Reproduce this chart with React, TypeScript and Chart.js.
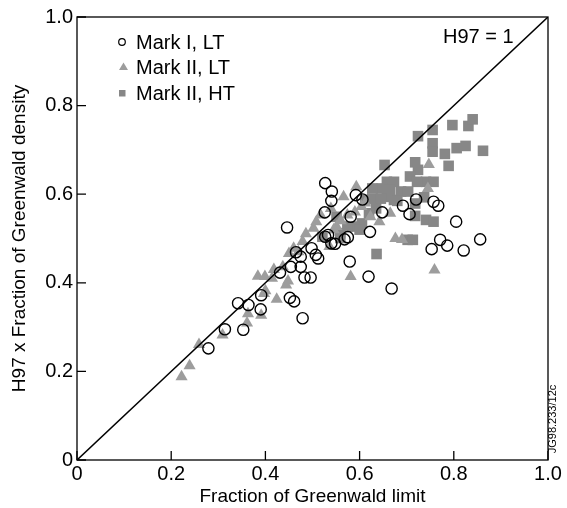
import React, { useEffect, useRef } from "react";
import { Chart, registerables } from "chart.js";

Chart.register(...registerables);

const FONT = "'Liberation Sans', Arial, Helvetica, sans-serif";

const xTickValues = [0, 0.2, 0.4, 0.6, 0.8, 1.0];
const yTickValues = [0, 0.2, 0.4, 0.6, 0.8, 1.0];
const xTitle = "Fraction of Greenwald limit";
const yTitle = "H97 x Fraction of Greenwald density";
const seriesNames = ["Mark I, LT", "Mark II, LT", "Mark II, HT"];
const lineLabel = "H97 = 1";
const figureId = "JG98.233/12c";

const markILT: [number, number][] = [
  [0.279, 0.252], [0.314, 0.295], [0.353, 0.294], [0.342, 0.354], [0.364, 0.350],
  [0.390, 0.340], [0.391, 0.372], [0.452, 0.366], [0.461, 0.358], [0.479, 0.320],
  [0.446, 0.525], [0.431, 0.423], [0.454, 0.436], [0.465, 0.469], [0.475, 0.459],
  [0.475, 0.436], [0.483, 0.412], [0.496, 0.412], [0.507, 0.463], [0.512, 0.455],
  [0.498, 0.478], [0.527, 0.625], [0.541, 0.606], [0.540, 0.585], [0.526, 0.559],
  [0.527, 0.504], [0.540, 0.489], [0.581, 0.549], [0.579, 0.448], [0.575, 0.503],
  [0.592, 0.598], [0.606, 0.588], [0.622, 0.515], [0.619, 0.414], [0.648, 0.559],
  [0.668, 0.387], [0.692, 0.574], [0.706, 0.555], [0.720, 0.588], [0.757, 0.583],
  [0.767, 0.574], [0.753, 0.476], [0.771, 0.497], [0.786, 0.484], [0.805, 0.538],
  [0.821, 0.473], [0.856, 0.498], [0.568, 0.498], [0.533, 0.508], [0.548, 0.488],
];

const markIILT: [number, number][] = [
  [0.222, 0.188], [0.239, 0.213], [0.259, 0.261], [0.309, 0.282], [0.361, 0.309],
  [0.363, 0.330], [0.391, 0.327], [0.384, 0.415], [0.399, 0.414], [0.400, 0.382],
  [0.397, 0.376], [0.414, 0.410], [0.418, 0.430], [0.424, 0.363], [0.444, 0.395],
  [0.448, 0.404], [0.437, 0.436], [0.450, 0.466], [0.460, 0.478], [0.479, 0.493],
  [0.486, 0.511], [0.502, 0.523], [0.508, 0.538], [0.517, 0.553], [0.539, 0.568],
  [0.536, 0.482], [0.566, 0.594], [0.593, 0.617], [0.574, 0.553], [0.551, 0.527],
  [0.581, 0.414], [0.604, 0.572], [0.623, 0.549], [0.642, 0.538], [0.665, 0.557],
  [0.676, 0.500], [0.690, 0.498], [0.747, 0.667], [0.745, 0.613], [0.759, 0.429],
  [0.612, 0.580], [0.590, 0.560], [0.560, 0.540], [0.470, 0.470], [0.545, 0.520],
];

const markIIHT: [number, number][] = [
  [0.636, 0.465], [0.653, 0.666], [0.724, 0.731], [0.755, 0.745], [0.755, 0.715],
  [0.755, 0.696], [0.797, 0.756], [0.831, 0.754], [0.840, 0.769], [0.781, 0.691],
  [0.806, 0.704], [0.825, 0.709], [0.862, 0.698], [0.789, 0.664], [0.718, 0.672],
  [0.724, 0.655], [0.707, 0.640], [0.741, 0.628], [0.757, 0.628], [0.722, 0.628],
  [0.737, 0.593], [0.718, 0.579], [0.702, 0.497], [0.718, 0.551], [0.741, 0.542],
  [0.757, 0.538], [0.658, 0.628], [0.673, 0.628], [0.647, 0.613], [0.658, 0.594],
  [0.673, 0.587], [0.688, 0.606], [0.703, 0.606], [0.627, 0.613], [0.612, 0.587],
  [0.635, 0.568], [0.620, 0.557], [0.605, 0.534], [0.589, 0.527], [0.574, 0.527],
  [0.559, 0.512], [0.559, 0.501], [0.551, 0.549], [0.521, 0.504], [0.627, 0.590],
  [0.665, 0.610], [0.645, 0.590], [0.680, 0.585], [0.600, 0.520], [0.713, 0.497],
];

const identityLine: [number, number][] = [[0, 0], [1, 1]];

const toPts = (a: [number, number][]) => a.map(([x, y]) => ({ x, y }));

const TRI_COLOR = "#9d9d9d";
const SQ_COLOR = "#878787";

const decorPlugin = {
  id: "decor",
  afterDraw(chart: any) {
    const { ctx, chartArea, scales } = chart;
    const { left, right, top, bottom } = chartArea;
    const xs = scales.x;
    const ys = scales.y;
    ctx.save();
    ctx.strokeStyle = "#000";
    ctx.lineWidth = 1.3;
    ctx.strokeRect(left, top, right - left, bottom - top);
    const tl = 9;
    ctx.beginPath();
    xTickValues.forEach((v) => {
      const px = xs.getPixelForValue(v);
      ctx.moveTo(px, bottom);
      ctx.lineTo(px, bottom - tl);
    });
    yTickValues.forEach((v) => {
      const py = ys.getPixelForValue(v);
      ctx.moveTo(left, py);
      ctx.lineTo(left + tl, py);
    });
    ctx.stroke();

    ctx.font = `20px ${FONT}`;
    ctx.textBaseline = "middle";
    ctx.textAlign = "left";
    ctx.fillStyle = "#000";
    const mx = left + 45;
    const tx = left + 59;
    const rows = [top + 25, top + 50, top + 76];
    ctx.beginPath();
    ctx.lineWidth = 1.2;
    ctx.strokeStyle = "#000";
    ctx.arc(mx, rows[0], 3.3, 0, Math.PI * 2);
    ctx.stroke();
    ctx.beginPath();
    ctx.fillStyle = TRI_COLOR;
    ctx.moveTo(mx + 1.5, rows[1] - 4.5);
    ctx.lineTo(mx + 6, rows[1] + 3);
    ctx.lineTo(mx - 3, rows[1] + 3);
    ctx.closePath();
    ctx.fill();
    ctx.fillStyle = SQ_COLOR;
    ctx.fillRect(mx - 3, rows[2] - 3, 6.5, 6.5);
    ctx.fillStyle = "#000";
    seriesNames.forEach((n, i) => ctx.fillText(n, tx, rows[i] + 1));

    ctx.fillText(lineLabel, xs.getPixelForValue(0.777), ys.getPixelForValue(0.953));

    ctx.save();
    ctx.font = `11px ${FONT}`;
    ctx.translate(right + 5, bottom - 41);
    ctx.rotate(-Math.PI / 2);
    ctx.textAlign = "center";
    ctx.textBaseline = "middle";
    ctx.fillText(figureId, 0, 0);
    ctx.restore();

    ctx.restore();
  },
};

export default function App() {
  const ref = useRef<HTMLCanvasElement | null>(null);
  useEffect(() => {
    document.body.style.margin = "0";
    document.body.style.background = "#fff";
    const canvas = ref.current!;
    const chart = new Chart(canvas, {
      type: "scatter",
      data: {
        datasets: [
          {
            type: "line",
            label: lineLabel,
            data: toPts(identityLine),
            borderColor: "#000",
            borderWidth: 1.5,
            pointRadius: 0,
            showLine: true,
            fill: false,
          } as any,
          {
            label: seriesNames[0],
            data: toPts(markILT),
            pointStyle: "circle",
            pointRadius: 5.6,
            borderColor: "#000",
            borderWidth: 1.4,
            backgroundColor: "rgba(255,255,255,0)",
          },
          {
            label: seriesNames[1],
            data: toPts(markIILT),
            pointStyle: "triangle",
            pointRadius: 7,
            borderWidth: 0,
            borderColor: TRI_COLOR,
            backgroundColor: TRI_COLOR,
          },
          {
            label: seriesNames[2],
            data: toPts(markIIHT),
            pointStyle: "rect",
            pointRadius: 7.5,
            borderWidth: 0,
            borderColor: SQ_COLOR,
            backgroundColor: SQ_COLOR,
          },
        ],
      },
      options: {
        responsive: false,
        animation: false,
        layout: { padding: { top: 17, right: 19, left: 0, bottom: 0 } },
        plugins: {
          legend: { display: false },
          tooltip: { enabled: false },
        },
        scales: {
          x: {
            type: "linear",
            min: 0,
            max: 1,
            afterFit: (s: any) => {
              s.height = 48;
            },
            afterBuildTicks: (s: any) => {
              s.ticks = xTickValues.map((v) => ({ value: v }));
            },
            grid: { display: false, drawTicks: false },
            border: { display: false },
            ticks: {
              padding: 2,
              color: "#000",
              font: { family: FONT, size: 20 },
              callback: (v: any) => (Number(v) === 0 ? "0" : Number(v).toFixed(1)),
              maxRotation: 0,
            },
            title: {
              display: true,
              text: xTitle,
              color: "#000",
              font: { family: FONT, size: 19 },
              padding: { top: 0, bottom: 0 },
            },
          },
          y: {
            type: "linear",
            min: 0,
            max: 1,
            afterFit: (s: any) => {
              s.width = 77;
            },
            afterBuildTicks: (s: any) => {
              s.ticks = yTickValues.map((v) => ({ value: v }));
            },
            grid: { display: false, drawTicks: false },
            border: { display: false },
            ticks: {
              padding: 4,
              color: "#000",
              font: { family: FONT, size: 20 },
              callback: (v: any) => (Number(v) === 0 ? "0" : Number(v).toFixed(1)),
            },
            title: {
              display: true,
              text: yTitle,
              color: "#000",
              font: { family: FONT, size: 19 },
              padding: { top: 8, bottom: 0 },
            },
          },
        },
      },
      plugins: [decorPlugin],
    });
    return () => chart.destroy();
  }, []);
  return (
    <div style={{ position: "absolute", left: 0, top: 0, width: 567, height: 508, background: "#fff" }}>
      <canvas ref={ref} width={567} height={508} style={{ display: "block", width: 567, height: 508 }} />
    </div>
  );
}
